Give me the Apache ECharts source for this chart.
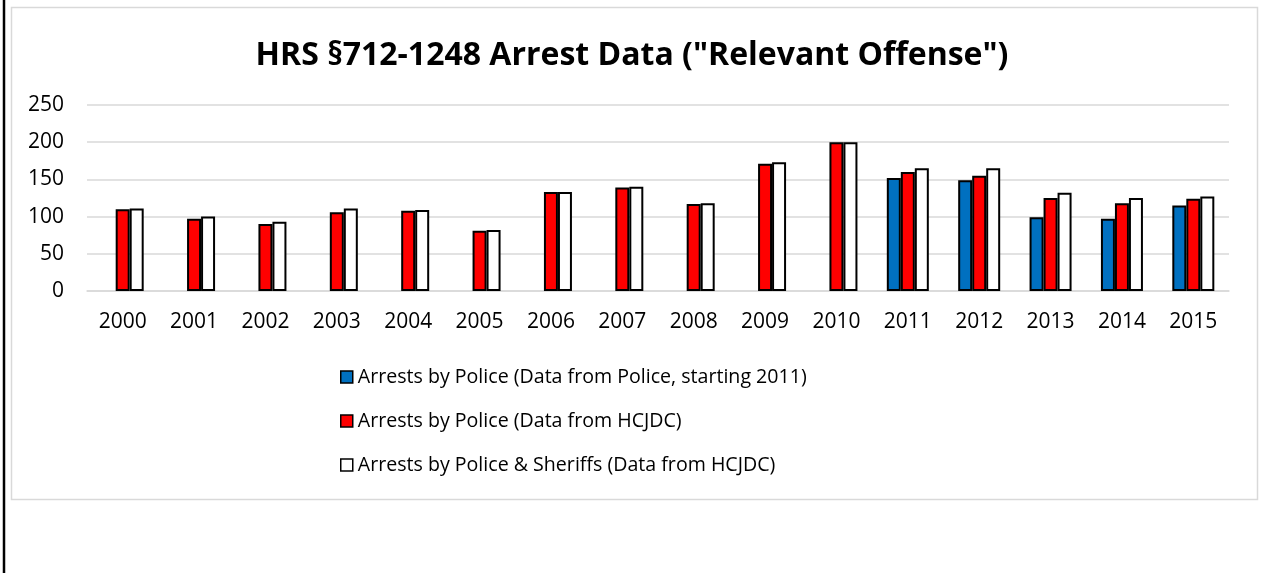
<!DOCTYPE html>
<html>
<head>
<meta charset="utf-8">
<script src="https://cdn.jsdelivr.net/npm/echarts@6/dist/echarts.min.js"></script>
<style>
  html, body { margin: 0; padding: 0; background: #fff; }
  #chart { width: 1264px; height: 573px; }
</style>
</head>
<body>
<div id="chart"></div>
<script>
// Arrest counts for HRS §712-1248, by year
const years = ['2000','2001','2002','2003','2004','2005','2006','2007','2008','2009','2010','2011','2012','2013','2014','2015'];
const policeOwnData = [null,null,null,null,null,null,null,null,null,null,null,152,149,99,97,115];
const policeHcjdc   = [110,97,90,106,108,81,133,139,117,171,200,160,155,125,118,124];
const policeSheriffsHcjdc = [111,100,93,111,109,82,133,140,118,173,200,165,165,132,125,127];
const seriesNames = [
  'Arrests by Police (Data from Police, starting 2011)',
  'Arrests by Police (Data from HCJDC)',
  'Arrests by Police & Sheriffs (Data from HCJDC)'
];
const yTicks = { min: 0, max: 250, interval: 50 };

const FONT = '"Open Sans", "Liberation Sans", sans-serif';
const colors = ['#0070C0', '#FF0000', '#FFFFFF'];
const seriesData = [policeOwnData, policeHcjdc, policeSheriffsHcjdc];

const chart = echarts.init(document.getElementById('chart'), null, { renderer: 'canvas' });

chart.setOption({
  animation: false,
  backgroundColor: '#ffffff',
  title: {
    text: 'HRS §712-1248 Arrest Data ("Relevant Offense")',
    left: 'center',
    top: 40,
    padding: 0,
    textStyle: { fontFamily: FONT, fontWeight: 'bold', fontSize: 32, color: '#000' }
  },
  graphic: [
    { type: 'rect', silent: true, z: -1,
      shape: { x: 11.5, y: 7.5, width: 1246, height: 492 },
      style: { fill: 'none', stroke: '#d9d9d9', lineWidth: 1.5 } },
    { type: 'line', silent: true,
      shape: { x1: 4, y1: 0, x2: 4, y2: 573 },
      style: { stroke: '#000', lineWidth: 2.5 } }
  ],
  grid: { left: 87, right: 35, top: 105, bottom: 282, containLabel: false },
  legend: {
    orient: 'vertical',
    left: 340,
    top: 367,
    padding: 0,
    itemWidth: 12,
    itemHeight: 12,
    itemGap: 24,
    icon: 'rect',
    textStyle: { fontFamily: FONT, fontSize: 19.6, color: '#000' },
    data: seriesNames.map((n, i) => ({
      name: n,
      itemStyle: { color: colors[i], borderColor: '#000', borderWidth: 1.5 }
    }))
  },
  xAxis: {
    type: 'category',
    data: years,
    axisLine: { show: true, lineStyle: { color: '#d9d9d9', width: 1.5 } },
    axisTick: { show: false },
    axisLabel: { fontFamily: FONT, fontSize: 21, color: '#000', margin: 21 }
  },
  yAxis: {
    type: 'value',
    min: yTicks.min,
    max: yTicks.max,
    interval: yTicks.interval,
    axisLine: { show: false },
    axisTick: { show: false },
    splitLine: { lineStyle: { color: '#d9d9d9', width: 1.5 } },
    axisLabel: { fontFamily: FONT, fontSize: 21, color: '#000', margin: 23 }
  },
  series: seriesNames.map((n, i) => ({
    name: n,
    type: 'bar',
    data: seriesData[i],
    barWidth: 14,
    barGap: '0%',
    itemStyle: { color: colors[i], borderColor: '#000', borderWidth: 2 }
  }))
});
</script>
</body>
</html>
